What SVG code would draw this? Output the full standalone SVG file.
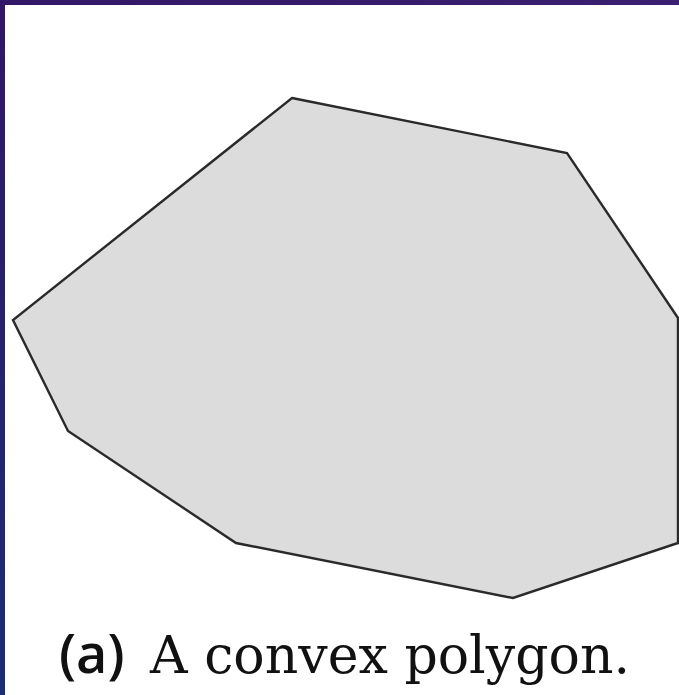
<svg xmlns="http://www.w3.org/2000/svg" width="679" height="695" viewBox="0 0 679 695">
  <defs>
    <linearGradient id="frameV" x1="0" y1="0" x2="0" y2="1">
      <stop offset="0" stop-color="#311766"/>
      <stop offset="1" stop-color="#1d2c74"/>
    </linearGradient>
    <linearGradient id="frameH" x1="0" y1="0" x2="1" y2="0">
      <stop offset="0" stop-color="#311766"/>
      <stop offset="1" stop-color="#3b1f70"/>
    </linearGradient>
  </defs>
  <style>
    .poly { fill: #dcdcdc; stroke: #2a2a2a; stroke-width: 2.4; stroke-linejoin: miter; }
    .label { font-family: "Open Sans", "DejaVu Sans", sans-serif; font-weight: 600; font-size: 54px; fill: #111111; }
    .caption { font-family: "DejaVu Serif", "Liberation Serif", serif; font-size: 53px; fill: #111111; }
  </style>
  <rect x="0" y="0" width="679" height="695" fill="#ffffff"/>
  <g id="frame">
    <rect x="0" y="0" width="679" height="5" fill="url(#frameH)"/>
    <rect x="0" y="0" width="5" height="695" fill="url(#frameV)"/>
  </g>
  <g id="polygon">
    <polygon class="poly" points="292,98 567,153 678,318 678,543 513,598 236,543 68,431 13,320"/>
  </g>
  <g id="caption">
    <text class="label" x="59" y="673">(a)</text>
    <text class="caption" x="150" y="673" textLength="480" lengthAdjust="spacingAndGlyphs">A convex polygon.</text>
  </g>
</svg>
